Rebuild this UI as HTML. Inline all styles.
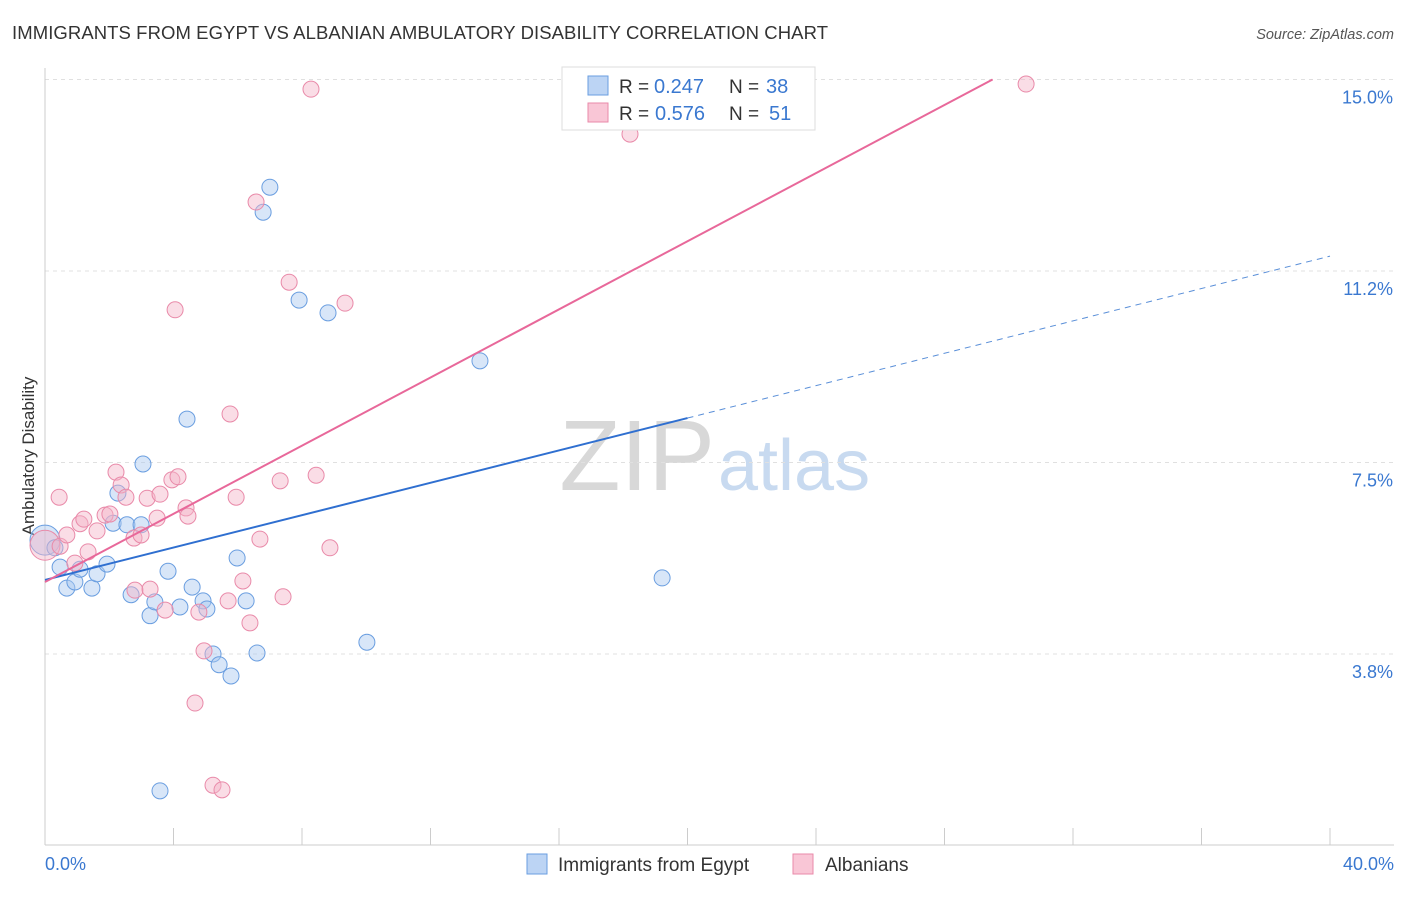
<!DOCTYPE html>
<html><head><meta charset="utf-8"><style>
body{margin:0;background:#fff;font-family:"Liberation Sans",sans-serif}
svg text{font-family:"Liberation Sans",sans-serif}
</style></head><body>
<svg id="c" width="1406" height="892">
<text x="12" y="39" font-size="18.5" fill="#333" textLength="816">IMMIGRANTS FROM EGYPT VS ALBANIAN AMBULATORY DISABILITY CORRELATION CHART</text>
<text x="1394" y="39" font-size="14.5" fill="#555" font-style="italic" text-anchor="end">Source: ZipAtlas.com</text>
<text x="715" y="490" font-size="100" fill="#d8d8d8" text-anchor="end" font-family="Liberation Serif">ZIP</text>
<text x="718" y="490" font-size="72" fill="#c8daf0">atlas</text>
<text x="34" y="456" font-size="17" fill="#333" text-anchor="middle" transform="rotate(-90 34 456)">Ambulatory Disability</text>
<g id="grid"></g><g id="marks"></g>
<g>
<rect x="562" y="67" width="253" height="63" fill="#fff" stroke="#ddd"/>
<rect x="588" y="76" width="20" height="19" fill="#bcd4f4" stroke="#6a9ee0"/>
<rect x="588" y="103" width="20" height="19" fill="#f9c6d6" stroke="#e98aa9"/>
<text x="619" y="93" font-size="19" fill="#333">R =</text>
<text x="654" y="93" font-size="20" fill="#3a78d0">0.247</text>
<text x="729" y="93" font-size="19" fill="#333">N =</text>
<text x="766" y="93" font-size="20" fill="#3a78d0">38</text>
<text x="619" y="120" font-size="19" fill="#333">R =</text>
<text x="655" y="120" font-size="20" fill="#3a78d0">0.576</text>
<text x="729" y="120" font-size="19" fill="#333">N =</text>
<text x="769" y="120" font-size="20" fill="#3a78d0">51</text>
</g>
<g>
<rect x="527" y="854" width="20" height="20" fill="#bcd4f4" stroke="#6a9ee0"/>
<text x="558" y="871" font-size="19" fill="#333">Immigrants from Egypt</text>
<rect x="793" y="854" width="20" height="20" fill="#f9c6d6" stroke="#e98aa9"/>
<text x="825" y="871" font-size="19" fill="#333">Albanians</text>
</g>
</svg>
<script>
const yTicks=[3.8,7.5,11.2,15.0];
const yTickVals=[3.75,7.5,11.25,15.0];
const xTickLabels=["0.0%","40.0%"];
const blueX=[0,0.31,0.47,0.68,0.93,1.09,1.46,1.62,1.93,2.12,2.27,2.55,2.68,2.99,3.05,3.27,3.42,3.58,3.83,4.20,4.42,4.58,4.92,5.04,5.23,5.42,5.79,5.98,6.26,6.60,6.79,7.00,7.91,8.81,10.02,13.54,19.21];
const blueY=[5.98,5.83,5.45,5.04,5.16,5.41,5.04,5.32,5.51,6.31,6.90,6.28,4.91,6.28,7.47,4.50,4.77,1.07,5.37,4.67,8.35,5.06,4.79,4.63,3.75,3.54,3.32,5.63,4.79,3.77,12.40,12.89,10.68,10.43,3.98,9.49,5.24];
const pinkX=[0,0.44,0.47,0.68,0.93,1.09,1.21,1.34,1.62,1.87,2.02,2.21,2.37,2.52,2.77,2.80,2.99,3.18,3.27,3.49,3.58,3.74,3.95,4.05,4.14,4.39,4.45,4.79,4.95,4.67,5.23,5.51,5.70,5.76,5.95,6.16,6.38,6.57,6.69,7.32,7.41,7.60,8.28,8.44,8.87,9.34,18.21,30.54];
const pinkY=[5.88,6.82,5.86,6.08,5.53,6.30,6.39,5.75,6.16,6.47,6.49,7.31,7.06,6.82,6.02,5.00,6.08,6.80,5.02,6.41,6.88,4.61,7.16,10.49,7.22,6.61,6.45,4.57,3.81,2.79,1.18,1.09,4.79,8.45,6.82,5.18,4.36,12.60,6.00,7.14,4.87,11.03,14.81,7.25,5.83,10.62,13.93,14.91];
const blueTrend=[5.20,0.1585];
const pinkTrend=[5.16,0.3336];
const sx=v=>45+v*32.125, sy=v=>845.5-v*51.07;
const NS="http://www.w3.org/2000/svg";
function mk(t,a,p){const e=document.createElementNS(NS,t);for(const k in a)e.setAttribute(k,a[k]);p.appendChild(e);return e;}
const g=document.getElementById('grid'), m=document.getElementById('marks');
yTickVals.forEach((v,i)=>{
 const l=mk('line',{x1:45,x2:1394,y1:sy(v),y2:sy(v),stroke:'#e0e0e0','stroke-dasharray':'4,4'},g);
 
 
 const t=mk('text',{x:1393,y:sy(v)+24,'font-size':18,fill:'#3a78d0','text-anchor':'end'},g);t.textContent=yTicks[i].toFixed(1)+'%';
 
 
});
mk('line',{x1:45,x2:45,y1:68,y2:845,stroke:'#ccc'},g);
mk('line',{x1:45,x2:1394,y1:845,y2:845,stroke:'#ccc'},g);
for(let i=0;i<=10;i++){const t=mk('line',{x1:sx(i*4),x2:sx(i*4),y1:828,y2:845,stroke:'#ccc'},g);
 
 }
[[0,'start',45],[40,'end',1394]].forEach((d,i)=>{const t=mk('text',{x:d[2],y:870,'font-size':18,fill:'#3a78d0','text-anchor':d[1]},g);t.textContent=xTickLabels[i];
 
 });
function dot(x,y,big,c){const e=mk('circle',{cx:sx(x),cy:sy(y),r:big?15:8,fill:c[0],'fill-opacity':0.45,stroke:c[1],'stroke-width':1},m);return e;}
const BC=['#a9c8f0','#6a9ee0'],PC=['#f5b3c8','#e98aa9'];
blueX.forEach((x,i)=>{const e=dot(x,blueY[i],i==0,BC);
 
 });
pinkX.forEach((x,i)=>{const e=dot(x,pinkY[i],i==0,PC);
 
 });
const bf=x=>blueTrend[0]+blueTrend[1]*x, pf=x=>pinkTrend[0]+pinkTrend[1]*x;
let e=mk('line',{x1:sx(0),y1:sy(bf(0)),x2:sx(20),y2:sy(bf(20)),stroke:'#2f6fd0','stroke-width':2},m);


e=mk('line',{x1:sx(20),y1:sy(bf(20)),x2:sx(40),y2:sy(bf(40)),stroke:'#5a8fd8','stroke-width':1,'stroke-dasharray':'6,5'},m);


const px2=(15-pinkTrend[0])/pinkTrend[1];
e=mk('line',{x1:sx(0),y1:sy(pf(0)),x2:sx(px2),y2:sy(pf(px2)),stroke:'#e8689a','stroke-width':2},m);


</script>
</body></html>
